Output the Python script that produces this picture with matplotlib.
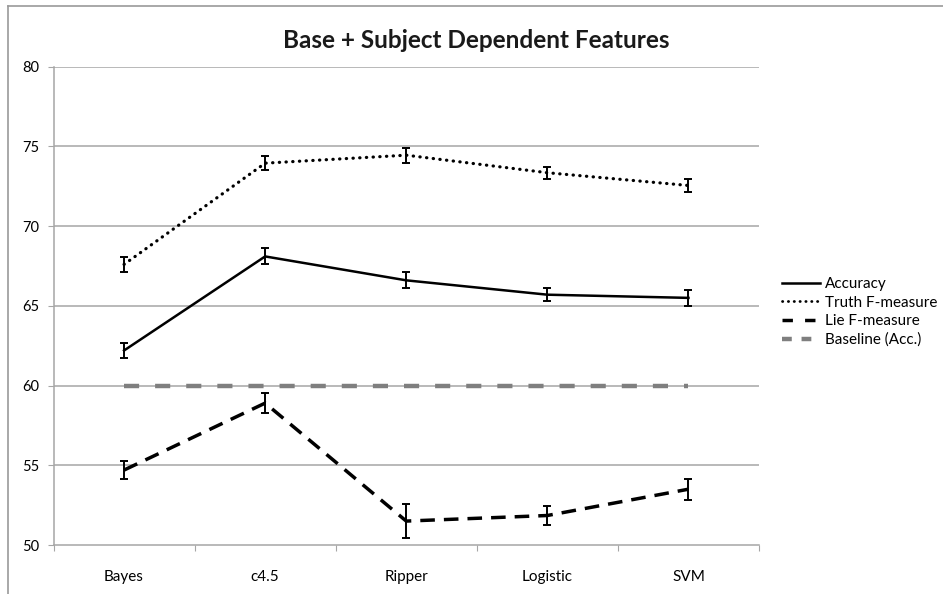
import matplotlib
matplotlib.use("Agg")
import matplotlib.pyplot as plt
from matplotlib.lines import Line2D

categories = ["Bayes", "c4.5", "Ripper", "Logistic", "SVM"]
accuracy = [62.2, 68.1, 66.6, 65.7, 65.5]
accuracy_err = [0.45, 0.5, 0.5, 0.42, 0.48]
truth_f = [67.6, 73.95, 74.45, 73.35, 72.55]
truth_err = [0.45, 0.45, 0.48, 0.38, 0.42]
lie_f = [54.7, 58.9, 51.5, 51.85, 53.5]
lie_err = [0.55, 0.65, 1.05, 0.6, 0.65]
baseline = [60, 60, 60, 60, 60]
yticks = [50, 55, 60, 65, 70, 75, 80]
title = "Base + Subject Dependent Features"

plt.rcParams['font.family'] = ['Lato', 'DejaVu Sans']

W, H = 943, 594
fig = plt.figure(figsize=(W / 100, H / 100), dpi=100)
ax = fig.add_axes([53.5 / W, 1 - 545 / H, (759 - 53.5) / W, (545 - 66.7) / H])

x = list(range(len(categories)))
grey = "#a6a6a6"

for y in yticks[1:]:
    ax.axhline(y, color=grey, lw=1.1, zorder=0)

ax.plot(x, baseline, color="#7f7f7f", lw=3.2, dashes=(3.4, 3.6), zorder=1,
        solid_capstyle="butt", dash_capstyle="butt")

ax.errorbar(x, accuracy, yerr=accuracy_err, color="black", lw=1.8, ls="-",
            capsize=3, elinewidth=1.4, capthick=1.4, zorder=3)
ax.errorbar(x, truth_f, yerr=truth_err, color="black", lw=2.3, ls=(0, (0.1, 2.0)),
            dash_capstyle="round", capsize=3, elinewidth=1.4, capthick=1.4, zorder=3)
ax.errorbar(x, lie_f, yerr=lie_err, color="black", lw=2.5, ls=(0, (4.2, 2.6)),
            capsize=3, elinewidth=1.4, capthick=1.4, zorder=3)

ax.set_xlim(-0.5, len(categories) - 0.5)
ax.set_ylim(50, 80)
ax.set_yticks(yticks)
ax.set_yticklabels([str(v) for v in yticks], fontsize=10.5)
ax.set_xticks([i + 0.5 for i in range(-1, len(categories))], minor=False)
ax.set_xticklabels([""] * (len(categories) + 1))
ax.set_xticks(x, minor=True)
ax.set_xticklabels(categories, minor=True, fontsize=11)
ax.tick_params(axis="x", which="minor", length=0, pad=18)
ax.tick_params(axis="x", which="major", length=4, color=grey, direction="out")
ax.tick_params(axis="y", length=4, color=grey, direction="out", pad=6)

for s in ["top", "right"]:
    ax.spines[s].set_visible(False)
for s in ["left", "bottom"]:
    ax.spines[s].set_color(grey)
    ax.spines[s].set_linewidth(1.1)

fig.text(476 / W, 1 - 41 / H, title, ha="center", va="center",
         fontsize=17.5, fontweight="bold", color="#1a1a1a")

handles = [
    Line2D([], [], color="black", lw=1.8),
    Line2D([], [], color="black", lw=2.0, ls=(0, (0.1, 2.0)), dash_capstyle="round"),
    Line2D([], [], color="black", lw=2.5, ls=(0, (3, 3.5))),
    Line2D([], [], color="#7f7f7f", lw=3.2, ls=(0, (2.2, 2.2))),
]
labels = ["Accuracy", "Truth F-measure", "Lie F-measure", "Baseline (Acc.)"]
fig.legend(handles, labels, loc="center left", bbox_to_anchor=(768 / W, 1 - 312 / H),
           frameon=False, fontsize=11, handlelength=2.5, handletextpad=0.3,
           labelspacing=0.3)

# outer chart frame
fig.add_artist(Line2D([8 / W, 8 / W], [0, 1 - 6 / H], transform=fig.transFigure,
                      color="#9a9a9a", lw=1.2))
fig.add_artist(Line2D([8 / W, 1], [1 - 6 / H, 1 - 6 / H], transform=fig.transFigure,
                      color="#9a9a9a", lw=1.2))

fig.savefig("out.png", dpi=100)
